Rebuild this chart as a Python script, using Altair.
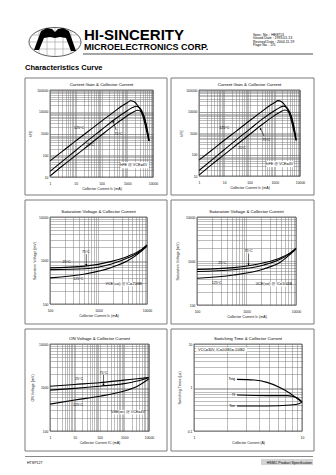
import math
import altair as alt
import pandas as pd

FONT = "Liberation Sans"

# ---------------- texts ----------------
COMPANY = "HI-SINCERITY"
COMPANY_SUB = "MICROELECTRONICS CORP."
SPEC_LINES = ["Spec. No. : HE8713", "Issued Date : 1993.01.13",
              "Revised Date : 2004.11.19", "Page No. : 2/5"]
SECTION = "Characteristics Curve"
FOOT_LEFT = "HTSP127"
FOOT_RIGHT = "HSMC Product Specification"

# ---------------- data ----------------
# Current gain (hFE) vs collector current (mA)
HFE_IC_125 = [1, 3, 10, 30, 100, 300, 600, 1000, 1350, 1800, 2500, 3500, 4500, 5400, 6800]
HFE_125 = [55, 150, 460, 1230, 3700, 9800, 18000, 26000, 32000, 29500, 20000, 10000, 4000, 1600, 500]
HFE_IC_75 = [1, 3, 10, 30, 100, 300, 1000, 1600, 2200, 3200, 4000, 5000, 6000, 7000]
HFE_75 = [18, 52, 166, 480, 1480, 4200, 11200, 15500, 17800, 14100, 8900, 3500, 1260, 450]
HFE_IC_25 = [1, 3, 10, 30, 100, 300, 1000, 1600, 2500, 3500, 4500, 5400, 6300, 7100]
HFE_25 = [11, 32, 98, 275, 850, 2350, 6600, 9300, 11700, 10000, 6300, 2800, 1120, 450]

# Saturation voltage (mV) vs collector current (mA), panel 3
SAT3_IC = [100, 525, 1860, 4070, 7600, 10000]
SAT3_25 = [676, 741, 955, 1260, 1780, 2290]
SAT3_75 = [617, 646, 832, 1150, 1700, 2240]
SAT3_125 = [398, 490, 692, 1000, 1620, 2140]

# Saturation voltage (mV) vs collector current (mA), panel 4
SAT4_IC = [100, 550, 2240, 4790, 7760, 10000]
SAT4_25 = [646, 708, 912, 1175, 1550, 1950]
SAT4_75 = [575, 631, 813, 1096, 1514, 1905]
SAT4_125 = [407, 479, 661, 933, 1445, 1862]

# ON voltage (mV) vs collector current (mA)
ON_IC = [1, 10, 100, 1000, 3400, 10000]
ON_25 = [1070, 1175, 1290, 1480, 1585, 1700]
ON_75 = [870, 955, 1070, 1230, 1410, 1700]
ON_125 = [415, 515, 630, 830, 1070, 1585]

# Switching time (us) vs collector current (A)
TSTG_IC = [2.5, 3.6, 4.75, 6.3, 7.8, 9.0, 10]
TSTG = [1.54, 1.49, 1.31, 0.99, 0.73, 0.56, 0.46]
TF_IC = [2.5, 4.75, 7.3, 9.0, 10]
TF = [0.67, 0.65, 0.65, 0.58, 0.47]
TON_IC = [2.5, 4.75, 7.8, 9.4, 10]
TON = [0.376, 0.376, 0.396, 0.425, 0.456]

LABEL_EXPR = ("indexof([0.1, 1, 10, 100, 1000, 10000, 100000], datum.value) >= 0"
              " ? datum.label : ''")


def log_ticks(lo, hi):
    vals = []
    for e in range(lo, hi):
        for m in range(1, 10):
            vals.append(round(m * 10.0 ** e, 6))
    vals.append(round(10.0 ** hi, 6))
    return vals


def curves_df(pairs):
    rows = []
    for name, xs, ys in pairs:
        for a, b in zip(xs, ys):
            rows.append({"s": name, "x": a, "y": b})
    return pd.DataFrame(rows)


def axis(title, lo, hi, orient, off):
    common = dict(title=title, values=log_ticks(lo, hi), labelExpr=LABEL_EXPR, format="~g",
                  grid=True, gridColor="#7a7a7a", gridWidth=0.5, ticks=False, domain=False,
                  labelOverlap=False, labelFont=FONT, labelFontSize=3.4, labelColor="#111",
                  titleFont=FONT, titleFontSize=3.6, titleFontWeight="normal", titleColor="#111")
    if orient == "x":
        return alt.Axis(labelPadding=4, labelFlush=False, titleY=off, **common)
    return alt.Axis(labelPadding=2, titleX=off, **common)


def one(text):
    return pd.DataFrame({"t": [text]})


def panel(p):
    w, h = p["w"], p["h"]
    L, T, R, B = p["m"]
    xs = alt.Scale(type="log", domain=p["xdom"], nice=False)
    ys = alt.Scale(type="log", domain=p["ydom"], nice=False)

    def X(f="x"):
        return alt.X(f"{f}:Q", scale=xs, axis=axis(p["xt"], p["xe"][0], p["xe"][1], "x", 9))

    def Y(f="y"):
        return alt.Y(f"{f}:Q", scale=ys, axis=axis(p["yt"], p["ye"][0], p["ye"][1], "y", p["ytx"]))

    layers = []
    layers.append(alt.Chart(one("")).mark_rect(filled=False, stroke="#7a7a7a", strokeWidth=1).encode(
        x=alt.value(-L), x2=alt.value(w + R), y=alt.value(-T), y2=alt.value(h + B)))
    lg = p["legend"]
    layers.append(alt.Chart(pd.DataFrame([lg])).mark_rect(color="white").encode(
        x=X("x1"), x2=alt.X2("x2"), y=Y("y1"), y2=alt.Y2("y2")))
    layers.append(alt.Chart(p["curves"]).mark_line(color="black", strokeWidth=1.1,
                                                   interpolate="monotone").encode(
        x=X(), y=Y(), detail="s:N"))
    layers.append(alt.Chart(one("")).mark_rect(filled=False, stroke="#333", strokeWidth=0.7).encode(
        x=alt.value(0), x2=alt.value(w), y=alt.value(0), y2=alt.value(h)))
    lab = p["labels"]
    layers.append(alt.Chart(lab).mark_text(font=FONT, fontSize=3.6, color="black",
                                           align=p.get("lab_align", "center"), baseline="middle").encode(
        x=X(), y=Y(), text="t:N"))
    if p.get("arrow") is not None:
        ar = pd.DataFrame([p["arrow"]])
        layers.append(alt.Chart(ar).mark_rule(color="black", strokeWidth=0.6).encode(
            x=X("x"), y=Y("y"), x2=alt.X2("x2"), y2=alt.Y2("y2")))
        layers.append(alt.Chart(ar).mark_point(shape="triangle-up", filled=True, size=6, color="black",
                                               opacity=1, angle=p["arrow_angle"]).encode(
            x=X("x2"), y=Y("y2")))
    layers.append(alt.Chart(pd.DataFrame([lg])).mark_text(font=FONT, fontSize=3.7, color="black",
                                                          align=lg.get("align", "center"),
                                                          baseline="middle").encode(
        x=X("tx"), y=Y("ty"), text="t:N"))
    layers.append(alt.Chart(one(p["title"])).mark_text(font=FONT, fontSize=4.4, color="black",
                                                       baseline="middle").encode(
        x=alt.value(w / 2), y=alt.value(-5), text="t:N"))
    return alt.layer(*layers).properties(width=w, height=h)


hfe_curves = curves_df([("125", HFE_IC_125, HFE_125), ("75", HFE_IC_75, HFE_75),
                        ("25", HFE_IC_25, HFE_25)])

P1 = dict(w=103, h=87, m=(25, 12, 14, 18), xdom=[1, 10000], ydom=[10, 100000], xe=(0, 4), ye=(1, 5),
          xt="Collector Current Ic (mA)", yt="hFE", ytx=-18, title="Current Gain & Collector Current",
          curves=hfe_curves,
          labels=pd.DataFrame({"t": ["125°C", "75°C", "25°C"], "x": [13.5, 450, 36], "y": [1800, 930, 310]}),
          arrow=dict(x=372, y=1410, x2=282, y2=3550), arrow_angle=330,
          legend=dict(t="hFE @ VCE=4V", tx=1780, ty=35, x1=560, x2=7000, y1=25, y2=49))
P2 = dict(w=101, h=86, m=(28, 12, 14, 19), xdom=[1, 10000], ydom=[10, 100000], xe=(0, 4), ye=(1, 5),
          xt="Collector Current Ic (mA)", yt="hFE", ytx=-16, title="Current Gain & Collector Current",
          curves=hfe_curves,
          labels=pd.DataFrame({"t": ["125°C", "75°C", "25°C"], "x": [10, 457, 50], "y": [1660, 470, 210]}),
          arrow=dict(x=380, y=710, x2=270, y2=1580), arrow_angle=330,
          legend=dict(t="hFE @ VCE=4V", tx=1580, ty=36, x1=480, x2=5600, y1=26, y2=50))
P3 = dict(w=97, h=87, m=(25, 17, 20, 20), xdom=[100, 10000], ydom=[100, 10000], xe=(2, 4), ye=(2, 4),
          xt="Collector Current Ic (mA)", yt="Saturation Voltage (mV)", ytx=-14,
          title="Saturation Voltage & Collector Current",
          curves=curves_df([("25", SAT3_IC, SAT3_25), ("75", SAT3_IC, SAT3_75), ("125", SAT3_IC, SAT3_125)]),
          labels=pd.DataFrame({"t": ["25°C", "75°C", "125°C"], "x": [220, 550, 383], "y": [910, 1600, 375]}),
          arrow=dict(x=560, y=1400, x2=560, y2=790), arrow_angle=180,
          legend=dict(t="VCE(sat) @ IC=250IB", tx=3300, ty=288, x1=1900, x2=5900, y1=255, y2=325))
P4 = dict(w=99, h=88, m=(26, 17, 18, 19), xdom=[100, 10000], ydom=[100, 10000], xe=(2, 4), ye=(2, 4),
          xt="Collector Current Ic (mA)", yt="Saturation Voltage (mV)", ytx=-18,
          title="Saturation Voltage & Collector Current",
          curves=curves_df([("25", SAT4_IC, SAT4_25), ("75", SAT4_IC, SAT4_75), ("125", SAT4_IC, SAT4_125)]),
          labels=pd.DataFrame({"t": ["25°C", "75°C", "125°C"], "x": [324, 1100, 250], "y": [890, 1700, 324]}),
          arrow=dict(x=1100, y=1480, x2=1100, y2=830), arrow_angle=180,
          legend=dict(t="VCE(sat) @ IC=100IB", tx=3550, ty=295, x1=2100, x2=6300, y1=262, y2=332))
P5 = dict(w=99, h=87, m=(25, 15, 18, 20), xdom=[1, 10000], ydom=[100, 10000], xe=(0, 4), ye=(2, 4),
          xt="Collector Current IC (mA)", yt="ON Voltage (mV)", ytx=-16,
          title="ON Voltage & Collector Current",
          curves=curves_df([("25", ON_IC, ON_25), ("75", ON_IC, ON_75), ("125", ON_IC, ON_125)]),
          labels=pd.DataFrame({"t": ["25°C", "75°C", "125°C"], "x": [14.8, 145, 13.5], "y": [1550, 2150, 400]}),
          arrow=dict(x=145, y=1950, x2=145, y2=1160), arrow_angle=180,
          legend=dict(t="VBE(on) @ VCE=4V", tx=1410, ty=270, x1=330, x2=6000, y1=240, y2=305))
P6 = dict(w=108, h=87, m=(23, 15, 12, 20), xdom=[1, 10], ydom=[0.1, 10], xe=(0, 1), ye=(-1, 1),
          xt="Collector Current (A)", yt="Switching Times (us)", ytx=-13,
          title="Switching Time & Collector Current",
          curves=curves_df([("tstg", TSTG_IC, TSTG), ("tf", TF_IC, TF), ("ton", TON_IC, TON)]),
          labels=pd.DataFrame({"t": ["Tstg", "Tf", "Ton"], "x": [2.4, 2.4, 2.4], "y": [1.6, 0.66, 0.376]}),
          lab_align="right", arrow=None,
          legend=dict(t="VCC=30V, IC=10IB1=-10IB2", tx=1.09, ty=7.45, x1=1.05, x2=3.1, y1=6.6, y2=8.4,
                      align="left"))

# ---------------- header ----------------
# the header/footer origin coincides with panel 1's plot origin (grid layout aligns origins)
HX = -25


def tmark(text, x, y, size, weight="normal", align="left", color="black"):
    return alt.Chart(one(text)).mark_text(font=FONT, fontSize=size, fontWeight=weight, align=align,
                                          baseline="alphabetic", color=color).encode(
        x=alt.value(x + HX), y=alt.value(y), text="t:N")


S = 26.0


def pt(x, y):
    return f"{x / S:.3f},{y / S:.3f}"


ell_path = "M" + " L".join(pt(26 * math.cos(math.radians(a)), 14.5 * math.sin(math.radians(a)))
                           for a in range(0, 360, 10)) + " Z"
grid_parts = []
for gy in (-7.0, 0.0, 7.0):
    hx = 26 * math.sqrt(1 - (gy / 14.5) ** 2)
    grid_parts.append("M" + pt(-hx, gy) + " L" + pt(hx, gy))
for gx in (-16.0, -8.0, 0.0, 8.0, 16.0):
    hy = 14.5 * math.sqrt(1 - (gx / 26) ** 2)
    grid_parts.append("M" + pt(gx, -hy) + " L" + pt(gx, hy))
grid_path = " ".join(grid_parts)
arch = [(-21, 8), (-14, -11), (-8, -14), (-3, -13), (0, -10), (3, -13), (8, -14), (14, -11),
        (21, 9), (16, 9), (11, -4), (5, -5), (0, -4), (-5, -5), (-11, -4), (-16, 8)]
arch_path = "M" + " L".join(pt(a, b) for a, b in arch) + " Z"

logo_x, logo_y = 30 + HX, 41
header_layers = [
    alt.Chart(one("")).mark_point(shape=ell_path, size=2704, filled=True, color="white", opacity=1,
                                  stroke="#333", strokeWidth=0.8).encode(x=alt.value(logo_x), y=alt.value(logo_y)),
    alt.Chart(one("")).mark_point(shape=grid_path, size=2704, filled=False, color="#888", opacity=1,
                                  strokeWidth=0.5).encode(x=alt.value(logo_x), y=alt.value(logo_y)),
    alt.Chart(one("")).mark_point(shape=arch_path, size=2704, filled=True, color="black",
                                  opacity=1).encode(x=alt.value(logo_x), y=alt.value(logo_y)),
    tmark(COMPANY, 59, 38.5, 15, "bold"),
    tmark(COMPANY_SUB, 59, 48.5, 9, "bold"),
    alt.Chart(one("")).mark_rule(color="#888", strokeWidth=1.5).encode(
        x=alt.value(58 + HX), x2=alt.value(288 + HX), y=alt.value(53)),
    tmark(SECTION, 0, 68.5, 7.5, "bold"),
]
for i, s in enumerate(SPEC_LINES):
    header_layers.append(tmark(s, 228, 34.5 + i * 3.5, 3.5))
header = alt.layer(*header_layers).properties(width=288 + HX, height=72)

footer = alt.layer(
    alt.Chart(one("")).mark_rule(color="#888", strokeWidth=1).encode(
        x=alt.value(HX), x2=alt.value(288 + HX), y=alt.value(0.5)),
    alt.Chart(one("")).mark_rect(color="#d4d4d4").encode(
        x=alt.value(236 + HX), x2=alt.value(288 + HX), y=alt.value(3), y2=alt.value(9)),
    tmark(FOOT_LEFT, 2, 8, 3.6),
    tmark(FOOT_RIGHT, 287, 8, 3.6, align="right"),
).properties(width=288 + HX, height=12)

row1 = alt.hconcat(panel(P1), panel(P2), spacing=2)
row2 = alt.hconcat(panel(P3), panel(P4), spacing=2)
row3 = alt.hconcat(panel(P5), panel(P6), spacing=2)

chart = alt.vconcat(header, row1, row2, row3, footer, spacing=3).properties(
    padding={"left": 24, "top": 0, "right": 0, "bottom": 0},
    background="white",
).configure_view(stroke="transparent")

chart.save("out.html", embed_options={"renderer": "svg", "actions": False})
